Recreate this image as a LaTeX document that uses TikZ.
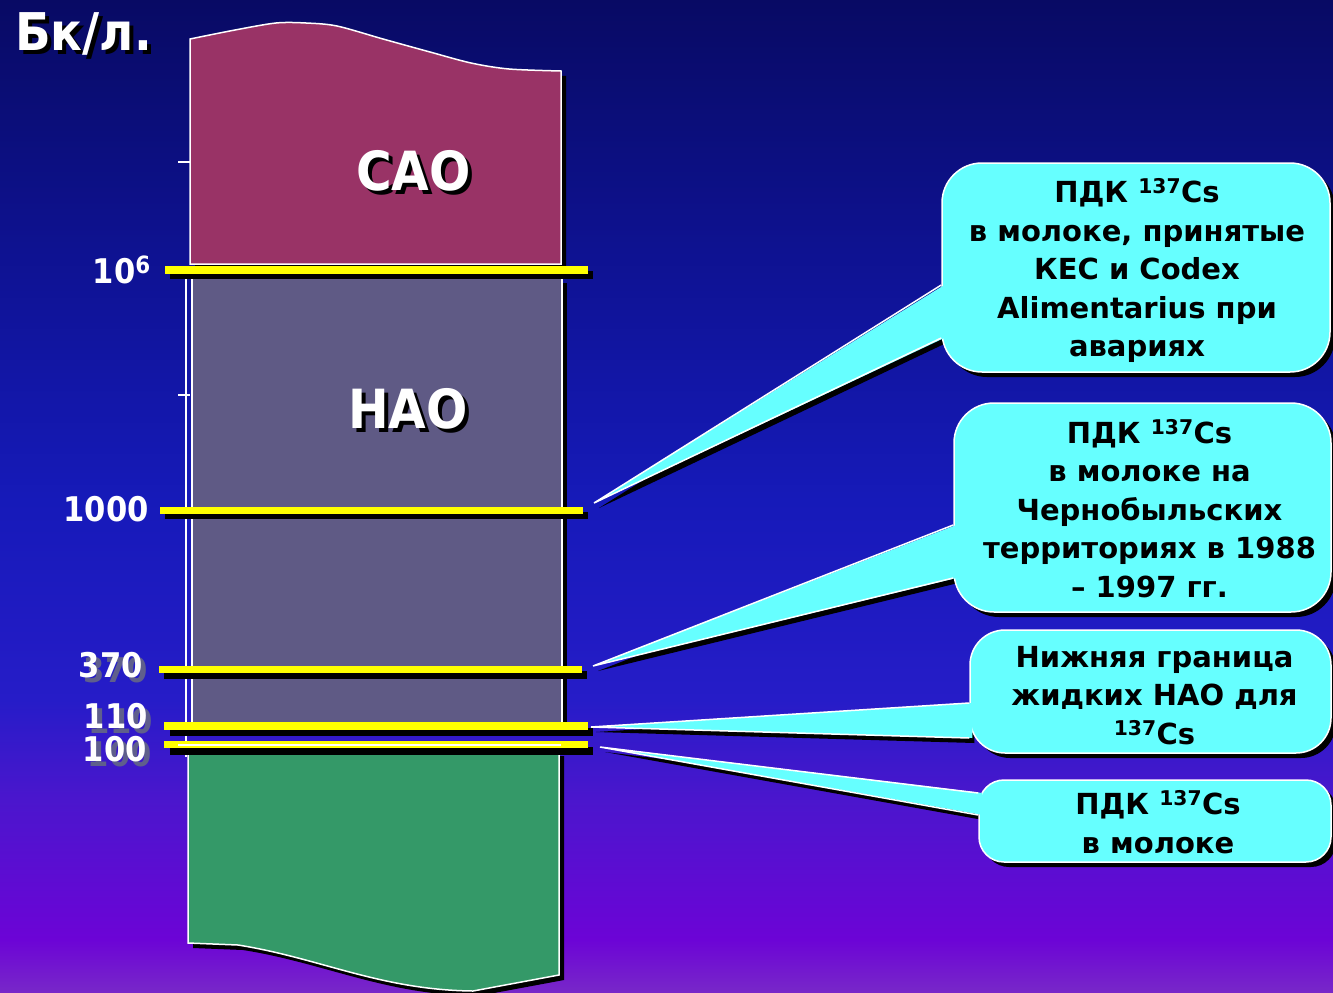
\documentclass[tikz,border=0pt]{standalone}
\usepackage{fontspec}
\setmainfont{DejaVu Sans}
\IfFontExistsTF{DejaVu Sans Condensed}
  {\newfontfamily\condf{DejaVu Sans Condensed}}
  {\newfontfamily\condf{DejaVu Sans}[FakeStretch=0.9]}
\usetikzlibrary{calc,shadows}
\definecolor{c0}{RGB}{8,10,100}
\definecolor{c250}{RGB}{14,18,145}
\definecolor{c500}{RGB}{22,26,185}
\definecolor{c700}{RGB}{38,28,200}
\definecolor{c800}{RGB}{75,22,205}
\definecolor{c940}{RGB}{108,4,214}
\definecolor{c993}{RGB}{120,40,200}
\definecolor{caoc}{RGB}{153,51,102}
\definecolor{naoc}{RGB}{95,90,133}
\definecolor{greenc}{RGB}{52,153,104}
\definecolor{calloutc}{RGB}{102,255,255}
\definecolor{yelc}{RGB}{255,255,0}
\definecolor{lblshc}{RGB}{95,95,140}
\pgfdeclareverticalshading{bgshade}{100bp}{color(0bp)=(c993); color(25bp)=(c993); color(27.7bp)=(c940); color(34.7bp)=(c800); color(39.75bp)=(c700); color(49.8bp)=(c500); color(62.4bp)=(c250); color(75bp)=(c0); color(100bp)=(c0)}
\pgfdeclarelayer{back}
\pgfdeclarelayer{shad}
\pgfsetlayers{back,shad,main}
\begin{document}
\begin{tikzpicture}[x=1pt,y=-1pt,
  blockline/.style={draw=white,line width=1.5pt},
  yelbar/.style={fill=yelc},
  yelshadow/.style={fill=black},
  callout/.style={fill=calloutc,draw=white,line width=1.5pt,rounded corners=40pt,
    inner sep=0pt,
    drop shadow={shadow xshift=5pt,shadow yshift=-5pt,opacity=1,fill=black}},
  callouttext/.style={align=center,text=black,inner sep=0pt,
    font=\bfseries\fontsize{29}{38.5}\selectfont},
  ptrfill/.style={fill=calloutc},
  ptrline/.style={draw=white,line width=1.5pt,line join=miter},
  ptrshadow/.style={fill=black},
  lbl/.style={text=white,anchor=base east,inner sep=0pt,font=\condf\bfseries\fontsize{34}{40}\selectfont},
  lblsh/.style={lbl,text=lblshc},
  big/.style={text=white,anchor=base west,inner sep=0pt,font=\condf\bfseries\fontsize{54}{60}\selectfont},
  bigsh/.style={big,text=black},
  titlef/.style={text=white,anchor=base west,inner sep=0pt,font=\condf\bfseries\fontsize{52}{58}\selectfont},
  titlesh/.style={titlef,text=black}]
\begin{pgfonlayer}{back}
\shade[shading=bgshade] (0,0) rectangle (1333,993);
\end{pgfonlayer}
\useasboundingbox (0,0) rectangle (1333,993);

% ---- block shadows
\begin{scope}[shift={(5,5)}]
\fill[black] plot[smooth] coordinates {(190,39) (235,30) (276,23) (306,23) (337,26) (383,39) (430,52) (471,63) (509,69) (561,71)} -- (561,264) -- (190,264) -- cycle;
\fill[black] (192,278) rectangle (562,725);
\fill[black] (188,751) -- (559,751) -- (559,975) -- (473,991) .. controls (380,990) and (320,958) .. (238,945) -- (188,943) -- cycle;
\end{scope}
% ---- blocks
\fill[caoc] plot[smooth] coordinates {(190,39) (235,30) (276,23) (306,23) (337,26) (383,39) (430,52) (471,63) (509,69) (561,71)} -- (561,264) -- (190,264) -- cycle;
\draw[blockline] plot[smooth] coordinates {(190,39) (235,30) (276,23) (306,23) (337,26) (383,39) (430,52) (471,63) (509,69) (561,71)} -- (561,264) -- (190,264) -- cycle;
\filldraw[blockline,fill=naoc] (192,278) rectangle (562,725);
\filldraw[blockline,fill=greenc] (188,751) -- (559,751) -- (559,975) -- (473,991) .. controls (380,990) and (320,958) .. (238,945) -- (188,943) -- cycle;
% ---- axis
\draw[white,line width=1.5pt] (186,266) -- (186,757);
\draw[white,line width=1.5pt] (178,162) -- (190,162);
\draw[white,line width=1.5pt] (178,395) -- (190,395);
\draw[white,line width=1.5pt] (178,278) -- (192,278);
% ---- yellow bars
\fill[yelshadow] (170,271) rectangle (593,279);
\fill[yelbar] (165,266) rectangle (588,274);
\fill[yelshadow] (165,512) rectangle (588,519);
\fill[yelbar] (160,507) rectangle (583,514);
\fill[yelshadow] (164,671) rectangle (587,679);
\fill[yelbar] (159,666) rectangle (582,673);
\fill[yelshadow] (170,728) rectangle (593,736);
\fill[yelbar] (164,722) rectangle (588,730);
\fill[yelshadow] (170,747) rectangle (593,755);
\fill[yelbar] (164,741) rectangle (588,748);
\draw[white,line width=1.2pt] (178,745) -- (561,745);
% ---- labels
\node[titlesh] at (19,54) {Бк/л.};
\node[titlef] (title) at (15,50) {Бк/л.};
\node[lbl] (l106) at (151,283) {10\textsuperscript{6}};
\node[lbl] (l1000) at (149,521) {1000};
\node[lblsh] at (148,682) {370};
\node[lbl] (l370) at (143,677) {370};
\node[lblsh] at (153,733) {110};
\node[lbl] (l110) at (148,728) {110};
\node[lblsh] at (152,766) {100};
\node[lbl] (l100) at (147,761) {100};
\node[bigsh] at (360,194) {САО};
\node[big] (cao) at (356,190) {САО};
\node[bigsh] at (352,432) {НАО};
\node[big] (nao) at (348,428) {НАО};

% ---- callouts
\coordinate (t1) at (594,503);
\coordinate (t2) at (593,666);
\coordinate (t3) at (591,727);
\coordinate (t4) at (600,747);
\node[callout,minimum width=388pt,minimum height=209pt] (b1) at (1136,267.5) {};
\node[callout,minimum width=377pt,minimum height=209pt] (b2) at (1142.5,507.5) {};
\node[callout,rounded corners=35pt,minimum width=361pt,minimum height=123pt] (b3) at (1150.5,691.5) {};
\node[callout,rounded corners=25pt,minimum width=352pt,minimum height=82pt] (b4) at (1155,821) {};
\begin{pgfonlayer}{shad}
\fill[ptrshadow] ($(b1.west)+(5,22.5)$) -- ($(t1)+(5,5)$) -- ($(b1.west)+(5,75.5)$) -- cycle;
\fill[ptrshadow] ($(b2.west)+(5,22.5)$) -- ($(t2)+(5,5)$) -- ($(b2.west)+(5,75.5)$) -- cycle;
\fill[ptrshadow] ($(b3.west)+(5,16.5)$) -- ($(t3)+(5,5)$) -- ($(b3.west)+(5,51.5)$) -- cycle;
\fill[ptrshadow] ($(b4.west)+(5,-23)$) -- ($(t4)+(5,5)$) -- ($(b4.west)+(5,-1)$) -- cycle;
\end{pgfonlayer}
\fill[ptrfill] ($(b1.west)+(3,17.5)$) -- (t1) -- ($(b1.west)+(3,70.5)$) -- cycle;
\draw[ptrline] ($(b1.west)+(0,17.5)$) -- (t1) -- ($(b1.west)+(0,70.5)$);
\fill[ptrfill] ($(b2.west)+(3,17.5)$) -- (t2) -- ($(b2.west)+(3,70.5)$) -- cycle;
\draw[ptrline] ($(b2.west)+(0,17.5)$) -- (t2) -- ($(b2.west)+(0,70.5)$);
\fill[ptrfill] ($(b3.west)+(3,11.5)$) -- (t3) -- ($(b3.west)+(3,46.5)$) -- cycle;
\draw[ptrline] ($(b3.west)+(0,11.5)$) -- (t3) -- ($(b3.west)+(0,46.5)$);
\fill[ptrfill] ($(b4.west)+(4,-28)$) -- (t4) -- ($(b4.west)+(4,-6)$) -- cycle;
\draw[ptrline] ($(b4.west)+(0,-28)$) -- (t4) -- ($(b4.west)+(0,-6)$);
% ---- callout texts
\node[callouttext] (tx1) at ($(b1.center)+(1,3)$)
  {ПДК \textsuperscript{137}Cs\\в молоке, принятые\\КЕС и Codex\\Alimentarius при\\авариях};
\node[callouttext] (tx2) at ($(b2.center)+(7,1)$)
  {ПДК \textsuperscript{137}Cs\\в молоке на\\Чернобыльских\\территориях в 1988\\– 1997 гг.};
\node[callouttext] (tx3) at ($(b3.center)+(4,4)$)
  {Нижняя граница\\жидких НАО для\\\textsuperscript{137}Cs};
\node[callouttext] (tx4) at ($(b4.center)+(3,1)$)
  {ПДК \textsuperscript{137}Cs\\в молоке};
\end{tikzpicture}
\end{document}
